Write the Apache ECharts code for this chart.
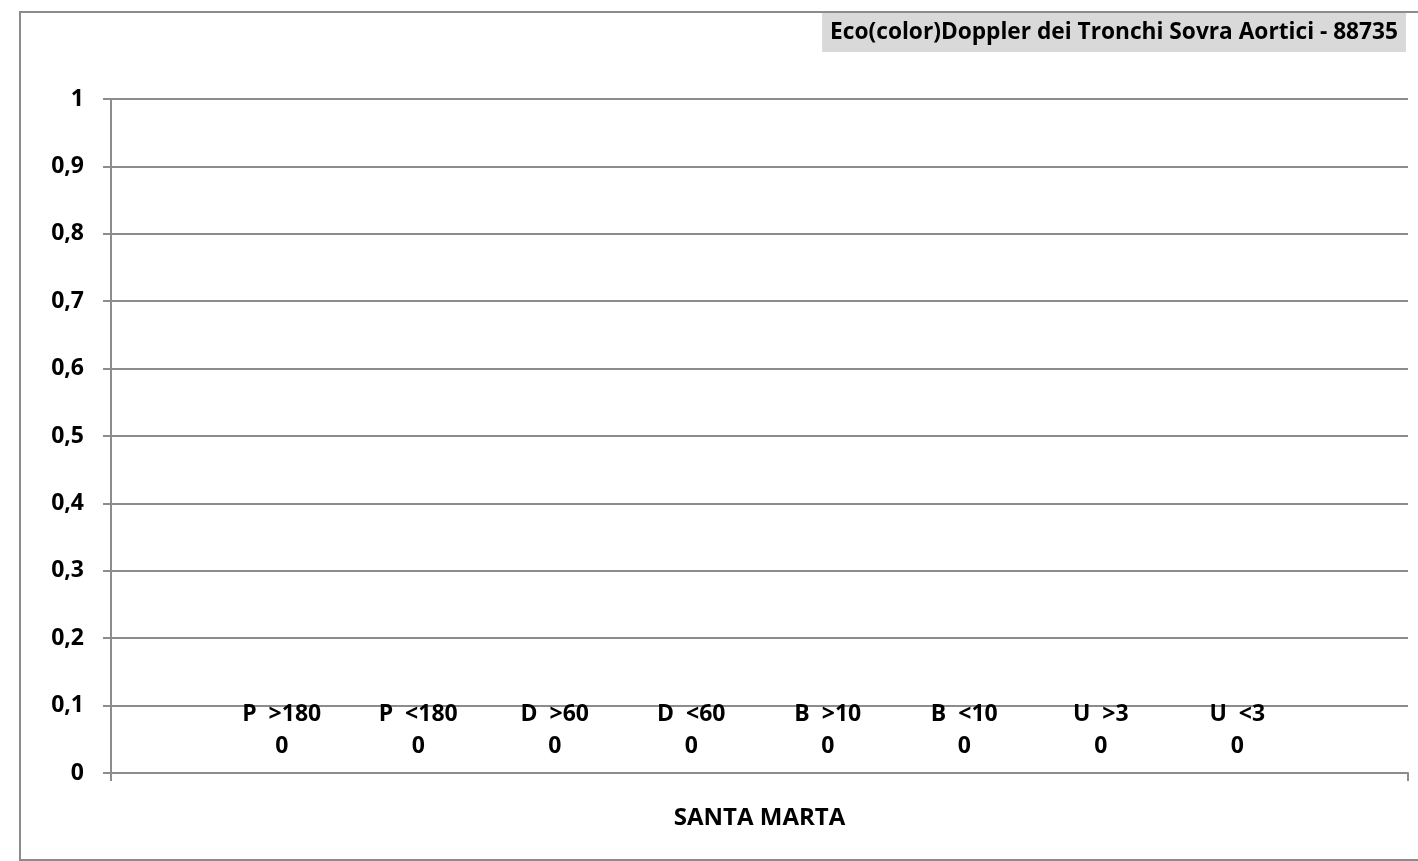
<!DOCTYPE html>
<html>
<head>
<meta charset="utf-8">
<script src="https://cdn.jsdelivr.net/npm/echarts@6/dist/echarts.min.js"></script>
<style>
html,body{margin:0;padding:0;background:#fff;}
#chart{width:1418px;height:861px;}
</style>
</head>
<body>
<div id="chart"></div>
<script>
const titleText = 'Eco(color)Doppler dei Tronchi Sovra Aortici - 88735';
const categories = ['SANTA MARTA'];
const seriesNames = ['P  >180', 'P  <180', 'D  >60', 'D  <60', 'B  >10', 'B  <10', 'U  >3', 'U  <3'];
const seriesValues = [[0], [0], [0], [0], [0], [0], [0], [0]];
const yTicks = { min: 0, max: 1, interval: 0.1 };

const FONT = '"Open Sans", "Noto Sans", sans-serif';
const FS = 22;
const chart = echarts.init(document.getElementById('chart'), null, { renderer: 'canvas' });

const series = seriesNames.map((name, i) => ({
  name: name,
  type: 'bar',
  data: seriesValues[i],
  barGap: '0%',
  barCategoryGap: '15.8%',
  itemStyle: { color: '#4f81bd' },
  label: {
    show: true,
    position: 'top',
    distance: 11,
    formatter: '{a}\n{c}',
    color: '#000',
    fontFamily: FONT,
    fontWeight: 'bold',
    fontSize: 23,
    lineHeight: 32,
    align: 'center'
  }
}));

chart.setOption({
  animation: false,
  backgroundColor: '#fff',
  title: {
    text: titleText,
    right: 12,
    top: 13,
    backgroundColor: '#d9d9d9',
    padding: [8, 8, 8, 8],
    textStyle: { fontFamily: FONT, fontWeight: 'bold', fontSize: 22.7, lineHeight: 23, color: '#000' }
  },
  graphic: [{
    type: 'rect',
    shape: { x: 20, y: 12, width: 1420, height: 848 },
    style: { fill: null, stroke: '#8c8c8c', lineWidth: 2 },
    z: -1
  }],
  grid: { left: 111, right: 10, top: 99, bottom: 88, containLabel: false },
  xAxis: {
    type: 'category',
    data: categories,
    axisLine: { show: true, lineStyle: { color: '#8c8c8c', width: 2 } },
    axisTick: { show: true, length: 8, inside: false, lineStyle: { color: '#8c8c8c', width: 2 } },
    axisLabel: { margin: 33, color: '#000', fontFamily: FONT, fontWeight: 'bold', fontSize: 24 }
  },
  yAxis: {
    type: 'value',
    min: yTicks.min,
    max: yTicks.max,
    interval: yTicks.interval,
    axisLine: { show: true, lineStyle: { color: '#8c8c8c', width: 2 } },
    axisTick: { show: true, length: 8, lineStyle: { color: '#8c8c8c', width: 2 } },
    splitLine: { show: true, lineStyle: { color: '#8c8c8c', width: 2 } },
    axisLabel: {
      margin: 27,
      color: '#000',
      fontFamily: FONT,
      fontWeight: 'bold',
      fontSize: 23,
      formatter: v => String(Math.round(v * 10) / 10).replace('.', ',')
    }
  },
  series: series
});
</script>
</body>
</html>
